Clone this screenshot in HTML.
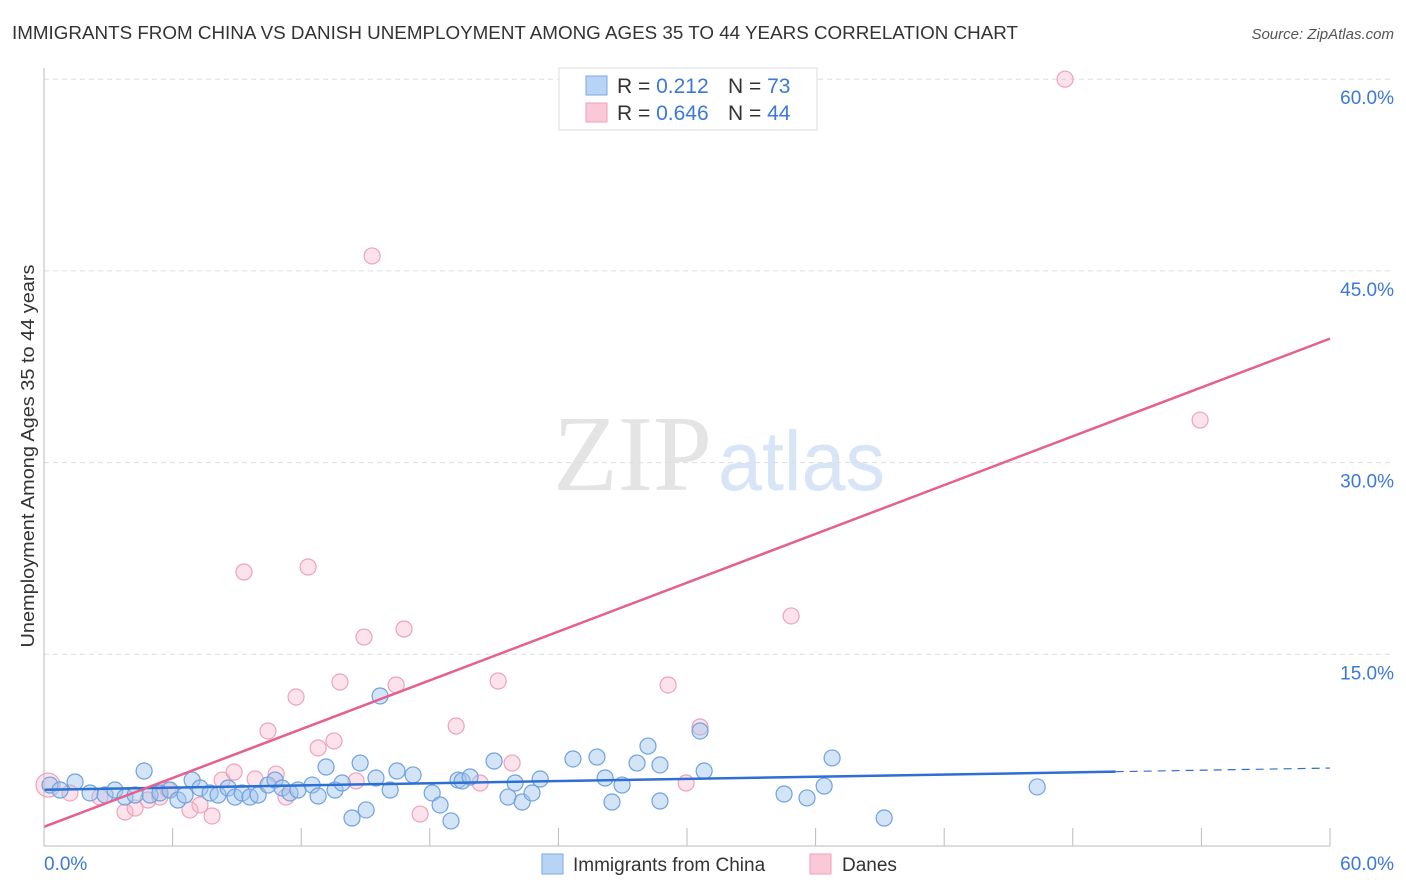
<!DOCTYPE html>
<html><head><meta charset="utf-8"><style>
body{margin:0;background:#fff;font-family:"Liberation Sans",sans-serif}
svg{display:block}
</style></head><body>
<svg id="c" width="1406" height="892" xmlns="http://www.w3.org/2000/svg">
<text x="12" y="39" font-size="18" fill="#333" textLength="1006" lengthAdjust="spacingAndGlyphs">IMMIGRANTS FROM CHINA VS DANISH UNEMPLOYMENT AMONG AGES 35 TO 44 YEARS CORRELATION CHART</text>
<text x="1394" y="39" font-size="15" fill="#555" font-style="italic" text-anchor="end">Source: ZipAtlas.com</text>
<text x="553" y="490" font-size="108" fill="#e4e4e4" textLength="159" lengthAdjust="spacingAndGlyphs" font-family="Liberation Serif,serif">ZIP</text>
<text x="718" y="490" font-size="84" fill="#d8e5f6" textLength="167" lengthAdjust="spacingAndGlyphs">atlas</text>
<text transform="translate(34,456) rotate(-90)" font-size="18" fill="#333" text-anchor="middle" textLength="383" lengthAdjust="spacingAndGlyphs">Unemployment Among Ages 35 to 44 years</text>
<g id="grid"></g><g id="pts"></g><g id="lines"></g>
<line x1="44" y1="68" x2="44" y2="846" stroke="#bbb"/>
<line x1="44" y1="846" x2="1330" y2="846" stroke="#bbb"/>
<text x="44" y="870" font-size="19" fill="#3b78d8">0.0%</text>
<text x="1394" y="870" font-size="19" fill="#3b78d8" text-anchor="end">60.0%</text>
<g>
<rect x="559" y="68" width="258" height="62" fill="#fff" stroke="#ddd"/>
<rect x="586" y="76" width="21" height="19" fill="#b8d3f5" stroke="#7aaae0"/>
<rect x="586" y="103" width="21" height="19" fill="#fac8d7" stroke="#eca3bb"/>
<text x="617" y="93" font-size="21" fill="#333">R = <tspan fill="#3b78d8"> 0.212</tspan><tspan x="728">N = </tspan><tspan fill="#3b78d8">73</tspan></text>
<text x="617" y="120" font-size="21" fill="#333">R = <tspan fill="#3b78d8">0.646</tspan><tspan x="728">N = </tspan><tspan fill="#3b78d8">44</tspan></text>
</g>
<g>
<rect x="542" y="854" width="21" height="20" fill="#b8d3f5" stroke="#7aaae0"/>
<text x="573" y="871" font-size="19" fill="#333">Immigrants from China</text>
<rect x="810" y="854" width="21" height="20" fill="#fac8d7" stroke="#eca3bb"/>
<text x="842" y="871" font-size="19" fill="#333">Danes</text>
</g>
</svg>
<script>
const yTicks=[15,30,45,60];
const blueX=[0.28,0.75,1.45,2.15,2.85,3.31,3.78,4.25,4.67,4.95,5.41,5.88,6.25,6.58,6.91,7.28,7.75,8.12,8.59,8.91,9.24,9.61,9.99,10.45,10.78,11.11,11.48,11.85,12.51,12.79,13.16,13.58,13.91,14.37,14.75,15.03,15.49,16.15,15.68,16.47,17.22,18.11,18.48,18.99,19.32,19.51,19.88,21.0,21.65,21.98,22.31,22.77,23.15,24.68,25.8,26.18,26.5,26.97,27.67,28.18,28.74,28.74,30.61,30.8,34.53,35.6,36.4,36.77,39.2,46.34];
const blueY=[4.77,4.38,5.01,4.15,3.99,4.38,3.83,3.99,5.87,3.99,4.15,4.38,3.6,3.99,5.16,4.54,4.15,3.99,4.54,3.83,4.15,3.83,3.99,4.77,5.16,4.54,4.15,4.38,4.77,3.91,6.18,4.38,4.93,2.19,6.49,2.82,5.32,4.38,11.74,5.87,5.56,4.15,3.21,1.96,5.16,5.09,5.4,6.65,3.83,4.93,3.44,4.15,5.24,6.81,6.96,5.32,3.44,4.77,6.49,7.82,3.52,6.34,9.0,5.87,4.07,3.76,4.69,6.89,2.19,4.62];
const pinkX=[0.19,1.21,2.61,3.78,4.25,4.85,5.41,5.79,6.81,7.28,7.84,8.31,8.87,9.33,9.85,10.45,10.83,11.29,11.76,12.32,12.79,13.53,13.81,14.56,14.93,15.31,16.43,16.8,17.55,19.23,20.35,21.19,21.84,29.12,29.96,30.61,34.86,47.64,53.94];
const pinkY=[4.77,4.15,3.83,2.66,2.97,3.6,3.83,4.38,2.82,3.21,2.35,5.16,5.79,21.44,5.24,9.0,5.63,3.83,11.66,21.83,7.67,8.22,12.83,5.09,16.35,46.17,12.6,16.98,2.5,9.39,4.93,12.91,6.49,12.6,4.93,9.31,18.0,60.0,33.33];
const blueTrend=[4.4,6.1];
const pinkTrend=[1.5,39.7];
const NS="http://www.w3.org/2000/svg";
const sx=v=>44+v*21.433, sy=v=>846-v*12.78;
function mk(t,a,p){const e=document.createElementNS(NS,t);for(const k in a)e.setAttribute(k,a[k]);document.getElementById(p).appendChild(e);return e;}
yTicks.forEach(t=>{
 const l=mk('line',{x1:44,x2:1394,y1:sy(t),y2:sy(t),stroke:'#ddd','stroke-dasharray':'5,4'},'grid');
 
 
 const tx=mk('text',{x:1394,y:sy(t)+25,'font-size':19,fill:'#3b78d8','text-anchor':'end'},'grid');
 tx.textContent=t.toFixed(1)+'%';
 
 
});
for(let i=1;i<=10;i++){const l=mk('line',{x1:sx(i*6),x2:sx(i*6),y1:828,y2:846,stroke:'#bbb'},'grid');
 
 }
pinkX.forEach((x,i)=>{const c=mk('circle',{cx:sx(x),cy:sy(pinkY[i]),r:i==0?12:8,fill:'rgba(245,175,198,0.35)',stroke:'#eca3bb','stroke-width':1.2},'pts');
 
 });
blueX.forEach((x,i)=>{const c=mk('circle',{cx:sx(x),cy:sy(blueY[i]),r:8,fill:'rgba(160,195,238,0.45)',stroke:'#6fa2df','stroke-width':1.2},'pts');
 
 });
const bEnd=50;
const bl=mk('line',{x1:sx(0),y1:sy(blueTrend[0]),x2:sx(bEnd),y2:sy(blueTrend[0]+(blueTrend[1]-blueTrend[0])*bEnd/60),stroke:'#2e6fd3','stroke-width':2.5},'lines');


const bd=mk('line',{x1:sx(bEnd),y1:sy(blueTrend[0]+(blueTrend[1]-blueTrend[0])*bEnd/60),x2:sx(60),y2:sy(blueTrend[1]),stroke:'#2e6fd3','stroke-width':1.2,'stroke-dasharray':'8,6'},'lines');


const pl=mk('line',{x1:sx(0),y1:sy(pinkTrend[0]),x2:sx(60),y2:sy(pinkTrend[1]),stroke:'#e5608d','stroke-width':2.5},'lines');


</script>
</body></html>
